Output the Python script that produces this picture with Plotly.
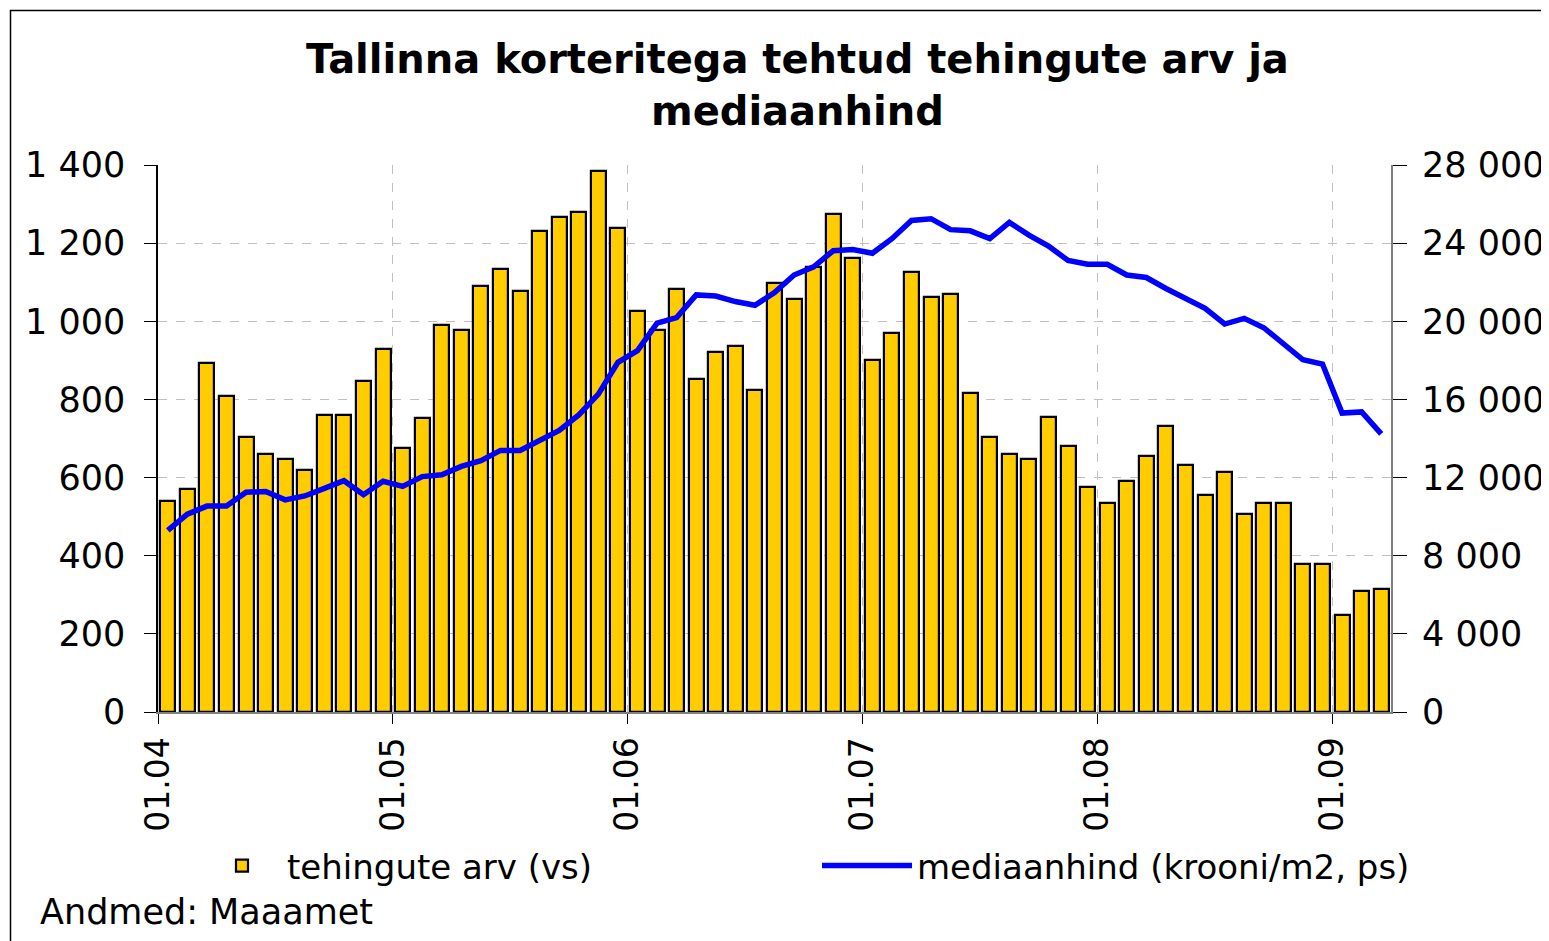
import plotly.graph_objects as go

# ---- data ----
tehingute_arv = [
    540, 570, 893, 809, 704, 661, 648, 620, 759, 759, 846, 929,      # 2004
    676, 753, 991, 978, 1091, 1133, 1077, 1231, 1266, 1279, 1385, 1238,  # 2005
    1027, 978, 1083, 852, 921, 936, 824, 1097, 1056, 1140, 1274, 1161,   # 2006
    902, 971, 1126, 1063, 1070, 817, 704, 661, 648, 754, 682, 576,   # 2007
    536, 590, 654, 732, 633, 556, 613, 507, 536, 536, 380, 380,      # 2008
    247, 310, 315,                                                   # 2009
]
mediaanhind = [
    9300, 10130, 10540, 10540, 11250, 11290, 10860, 11060, 11450, 11840, 11120, 11810,
    11550, 12050, 12140, 12570, 12870, 13390, 13390, 13910, 14410, 15210, 16270, 17900,
    18500, 19910, 20190, 21350, 21290, 21010, 20820, 21470, 22370, 22790, 23610, 23670,
    23480, 24230, 25160, 25250, 24690, 24630, 24230, 25060, 24410, 23850, 23110, 22920,
    22920, 22370, 22240, 21680, 21160, 20660, 19860, 20150, 19670, 18830, 18030, 17810,
    15300, 15360, 14240,
]
year_tick_labels = ["01.04", "01.05", "01.06", "01.07", "01.08", "01.09"]

n = len(tehingute_arv)
month_pos = [i + 0.5 for i in range(n)]          # category centres
year_tick_pos = [12 * k for k in range(len(year_tick_labels))]

FONT = "DejaVu Sans"
OFF = 8                      # page body margin of the browser
W, H = 1549 - OFF, 941 - OFF
PW, PH = 1233, 547
L, T = 158 - OFF, 165 - OFF
R, B = W - L - PW, H - T - PH


def px_x(x_ref):
    return (x_ref - OFF - L) / PW


def px_y(y_ref):
    return (T + PH - (y_ref - OFF)) / PH


fig = go.Figure()
fig.add_trace(go.Bar(
    x=month_pos, y=tehingute_arv, width=0.76,
    name="tehingute arv (vs)", legend="legend",
    marker=dict(color="#FFCC00", line=dict(color="black", width=2.2)),
))
fig.add_trace(go.Scatter(
    x=month_pos, y=mediaanhind, yaxis="y2", mode="lines",
    name="mediaanhind (krooni/m2, ps)", legend="legend2",
    line=dict(color="#0000FF", width=5.5),
))

fig.update_layout(
    width=W, height=H,
    margin=dict(l=L, r=R, t=T, b=B, autoexpand=False),
    paper_bgcolor="white", plot_bgcolor="white",
    separators=", ",
    font=dict(family=FONT, size=34, color="black"),
    bargap=0,
    xaxis=dict(
        range=[0, n], tickmode="array", tickvals=year_tick_pos, ticktext=year_tick_labels,
        tickangle=-90, ticks="outside", ticklen=10, tickcolor="black",
        showline=True, linecolor="#808080", linewidth=2,
        showgrid=True, gridcolor="#C0C0C0", griddash="dash", gridwidth=1,
        zeroline=False, tickfont=dict(family=FONT, size=33), ticklabelstandoff=0,
        automargin=False,
    ),
    yaxis=dict(
        range=[0, 1400], dtick=200, tick0=0, separatethousands=True,
        ticks="outside", ticklen=12, tickcolor="black",
        showline=True, linecolor="black", linewidth=1.5,
        showgrid=True, gridcolor="#C0C0C0", griddash="dash", gridwidth=1,
        zeroline=False, tickfont=dict(family=FONT, size=35), ticklabelstandoff=12,
        automargin=False,
    ),
    yaxis2=dict(
        range=[0, 28000], dtick=4000, tick0=0, tickformat=",d",
        separatethousands=True, exponentformat="none",
        overlaying="y", side="right",
        ticks="outside", ticklen=14, tickcolor="black",
        showline=True, linecolor="#808080", linewidth=2,
        showgrid=False, zeroline=False,
        tickfont=dict(family=FONT, size=35), ticklabelstandoff=8,
        automargin=False,
    ),
    showlegend=True,
    legend=dict(
        orientation="h", x=px_x(197), y=px_y(866),
        xanchor="left", yanchor="middle", itemwidth=80,
        font=dict(family=FONT, size=34), bgcolor="rgba(0,0,0,0)",
    ),
    legend2=dict(
        orientation="h", x=px_x(817), y=px_y(866),
        xanchor="left", yanchor="middle", itemwidth=90,
        font=dict(family=FONT, size=34), bgcolor="rgba(0,0,0,0)",
    ),
    annotations=[
        dict(
            text="<b>Tallinna korteritega tehtud tehingute arv ja<br>mediaanhind</b>",
            xref="paper", yref="paper", x=px_x(797), y=px_y(85),
            xanchor="center", yanchor="middle", showarrow=False,
            font=dict(family=FONT, size=40, color="black"),
        ),
        dict(
            text="Andmed: Maaamet",
            xref="paper", yref="paper", x=px_x(38), y=px_y(912),
            xanchor="left", yanchor="middle", showarrow=False,
            font=dict(family=FONT, size=35, color="black"),
        ),
    ],
    shapes=[
        dict(type="rect", xref="paper", yref="paper",
             x0=px_x(10.5), x1=px_x(1600), y0=px_y(1000), y1=px_y(10.5),
             line=dict(color="black", width=1.5), layer="below"),
    ],
)

fig.write_html("out.html")
